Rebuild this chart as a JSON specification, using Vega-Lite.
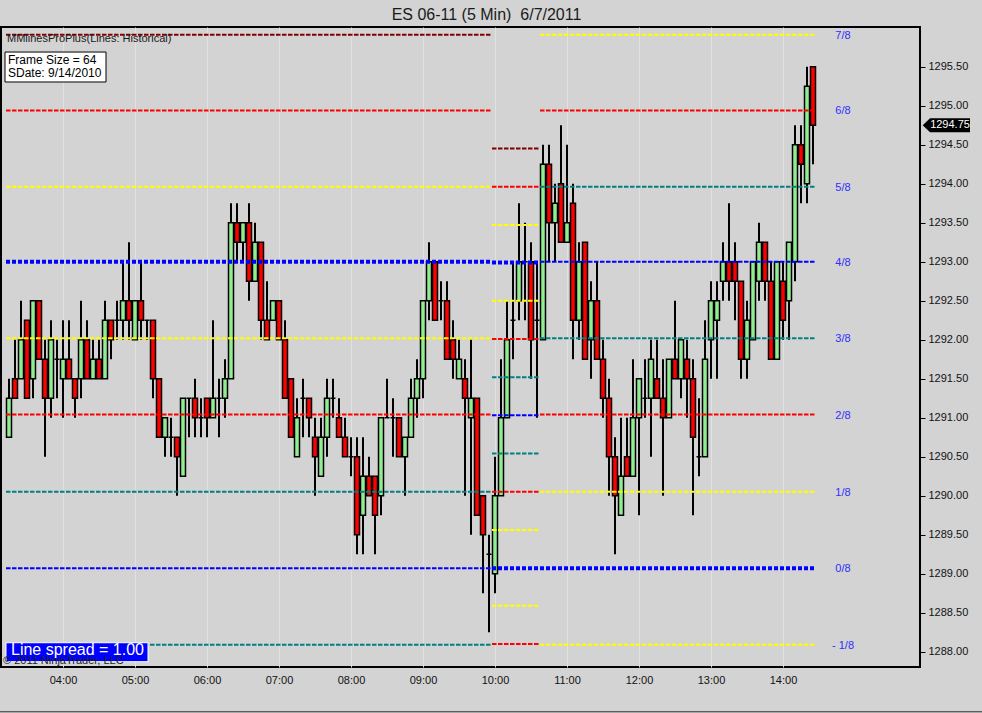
{
"$schema":"https://vega.github.io/schema/vega-lite/v6.json",
"width":919,"height":640,
"autosize":{"type":"none"},
"padding":{"left":1,"top":27,"right":62,"bottom":46},
"background":"#d3d3d3",
"title":{"text":"ES 06-11 (5 Min) \u00a06/7/2011","anchor":"middle","dx":26,"dy":17,"offset":8,"fontSize":16,"font":"Liberation Sans","fontWeight":"normal","color":"#1a1a1a","baseline":"alphabetic"},
"config":{"view":{"stroke":"#000","strokeWidth":2},"font":"Liberation Sans"},
"layer":[
{"data":{"values":[
{"t":"03:15","o":1290.75,"h":1291.5,"l":1290.75,"c":1291.25},
{"t":"03:20","o":1291.5,"h":1292.0,"l":1291.25,"c":1291.25},
{"t":"03:25","o":1291.5,"h":1292.5,"l":1291.5,"c":1292.0},
{"t":"03:30","o":1292.25,"h":1292.25,"l":1291.25,"c":1291.25},
{"t":"03:35","o":1291.5,"h":1292.5,"l":1291.25,"c":1292.5},
{"t":"03:40","o":1292.5,"h":1292.5,"l":1291.75,"c":1291.75},
{"t":"03:45","o":1291.75,"h":1292.0,"l":1290.5,"c":1291.25},
{"t":"03:50","o":1291.25,"h":1292.25,"l":1291.0,"c":1292.0},
{"t":"03:55","o":1291.75,"h":1292.0,"l":1291.25,"c":1291.75},
{"t":"04:00","o":1291.5,"h":1292.25,"l":1291.0,"c":1291.75},
{"t":"04:05","o":1291.75,"h":1292.25,"l":1291.5,"c":1291.5},
{"t":"04:10","o":1291.5,"h":1291.5,"l":1291.0,"c":1291.25},
{"t":"04:15","o":1291.5,"h":1292.5,"l":1291.25,"c":1292.0},
{"t":"04:20","o":1292.0,"h":1292.25,"l":1291.5,"c":1291.5},
{"t":"04:25","o":1291.5,"h":1292.0,"l":1291.5,"c":1291.75},
{"t":"04:30","o":1291.75,"h":1292.0,"l":1291.5,"c":1291.5},
{"t":"04:35","o":1291.5,"h":1292.5,"l":1291.5,"c":1292.25},
{"t":"04:40","o":1292.25,"h":1292.25,"l":1291.75,"c":1292.0},
{"t":"04:45","o":1292.25,"h":1292.5,"l":1292.0,"c":1292.25},
{"t":"04:50","o":1292.25,"h":1293.0,"l":1292.0,"c":1292.5},
{"t":"04:55","o":1292.5,"h":1293.25,"l":1292.0,"c":1292.25},
{"t":"05:00","o":1292.0,"h":1292.5,"l":1292.0,"c":1292.5},
{"t":"05:05","o":1292.5,"h":1293.0,"l":1292.0,"c":1292.25},
{"t":"05:10","o":1292.25,"h":1292.25,"l":1292.0,"c":1292.25},
{"t":"05:15","o":1292.25,"h":1292.25,"l":1291.25,"c":1291.5},
{"t":"05:20","o":1291.5,"h":1291.5,"l":1290.75,"c":1290.75},
{"t":"05:25","o":1290.75,"h":1291.0,"l":1290.5,"c":1291.0},
{"t":"05:30","o":1290.75,"h":1291.0,"l":1290.5,"c":1290.75},
{"t":"05:35","o":1290.75,"h":1290.75,"l":1290.0,"c":1290.5},
{"t":"05:40","o":1290.25,"h":1291.25,"l":1290.25,"c":1291.25},
{"t":"05:45","o":1291.25,"h":1291.25,"l":1290.75,"c":1291.25},
{"t":"05:50","o":1291.25,"h":1291.5,"l":1290.75,"c":1291.0},
{"t":"05:55","o":1291.0,"h":1291.25,"l":1290.75,"c":1291.0},
{"t":"06:00","o":1291.25,"h":1291.25,"l":1290.75,"c":1291.0},
{"t":"06:05","o":1291.0,"h":1292.25,"l":1291.0,"c":1291.25},
{"t":"06:10","o":1291.25,"h":1291.5,"l":1290.75,"c":1291.25},
{"t":"06:15","o":1291.25,"h":1291.75,"l":1291.0,"c":1291.5},
{"t":"06:20","o":1291.5,"h":1293.75,"l":1291.5,"c":1293.5},
{"t":"06:25","o":1293.5,"h":1293.75,"l":1293.0,"c":1293.25},
{"t":"06:30","o":1293.25,"h":1293.5,"l":1293.0,"c":1293.5},
{"t":"06:35","o":1293.5,"h":1293.75,"l":1292.5,"c":1292.75},
{"t":"06:40","o":1292.75,"h":1293.5,"l":1292.75,"c":1293.25},
{"t":"06:45","o":1293.25,"h":1293.25,"l":1292.0,"c":1292.25},
{"t":"06:50","o":1292.25,"h":1292.75,"l":1292.0,"c":1292.0},
{"t":"06:55","o":1292.25,"h":1292.5,"l":1292.25,"c":1292.5},
{"t":"07:00","o":1292.5,"h":1292.5,"l":1292.0,"c":1292.0},
{"t":"07:05","o":1292.0,"h":1292.25,"l":1291.25,"c":1291.25},
{"t":"07:10","o":1291.5,"h":1291.5,"l":1290.75,"c":1290.75},
{"t":"07:15","o":1290.5,"h":1291.25,"l":1290.5,"c":1291.0},
{"t":"07:20","o":1291.25,"h":1291.5,"l":1290.75,"c":1291.25},
{"t":"07:25","o":1291.25,"h":1291.25,"l":1290.75,"c":1291.0},
{"t":"07:30","o":1290.75,"h":1291.0,"l":1290.0,"c":1290.5},
{"t":"07:35","o":1290.25,"h":1291.0,"l":1290.25,"c":1290.75},
{"t":"07:40","o":1290.75,"h":1291.5,"l":1290.5,"c":1291.25},
{"t":"07:45","o":1291.25,"h":1291.5,"l":1291.0,"c":1291.25},
{"t":"07:50","o":1291.0,"h":1291.25,"l":1290.75,"c":1290.75},
{"t":"07:55","o":1290.75,"h":1291.0,"l":1290.5,"c":1290.5},
{"t":"08:00","o":1290.5,"h":1290.75,"l":1290.25,"c":1290.5},
{"t":"08:05","o":1290.5,"h":1290.75,"l":1289.25,"c":1289.5},
{"t":"08:10","o":1289.75,"h":1290.75,"l":1289.25,"c":1290.25},
{"t":"08:15","o":1290.25,"h":1290.5,"l":1290.0,"c":1290.0},
{"t":"08:20","o":1290.25,"h":1290.25,"l":1289.25,"c":1289.75},
{"t":"08:25","o":1290.0,"h":1291.0,"l":1289.75,"c":1291.0},
{"t":"08:30","o":1291.0,"h":1291.5,"l":1291.0,"c":1291.0},
{"t":"08:35","o":1291.0,"h":1291.25,"l":1290.5,"c":1291.0},
{"t":"08:40","o":1291.0,"h":1291.0,"l":1290.5,"c":1290.5},
{"t":"08:45","o":1290.5,"h":1290.75,"l":1290.0,"c":1290.75},
{"t":"08:50","o":1290.75,"h":1291.5,"l":1290.75,"c":1291.25},
{"t":"08:55","o":1291.25,"h":1291.75,"l":1291.0,"c":1291.5},
{"t":"09:00","o":1291.5,"h":1292.5,"l":1291.25,"c":1292.5},
{"t":"09:05","o":1292.5,"h":1293.25,"l":1292.25,"c":1293.0},
{"t":"09:10","o":1293.0,"h":1293.0,"l":1292.25,"c":1292.25},
{"t":"09:15","o":1292.5,"h":1292.75,"l":1292.25,"c":1292.5},
{"t":"09:20","o":1292.5,"h":1292.75,"l":1291.75,"c":1291.75},
{"t":"09:25","o":1292.0,"h":1292.25,"l":1291.5,"c":1291.75},
{"t":"09:30","o":1291.5,"h":1292.0,"l":1291.5,"c":1291.75},
{"t":"09:35","o":1291.5,"h":1291.75,"l":1290.0,"c":1291.25},
{"t":"09:40","o":1291.0,"h":1292.0,"l":1289.5,"c":1291.25},
{"t":"09:45","o":1291.25,"h":1291.25,"l":1289.75,"c":1289.75},
{"t":"09:50","o":1290.0,"h":1290.0,"l":1288.75,"c":1289.5},
{"t":"09:55","o":1289.25,"h":1289.5,"l":1288.25,"c":1289.25},
{"t":"10:00","o":1289.0,"h":1290.5,"l":1288.75,"c":1290.0},
{"t":"10:05","o":1290.0,"h":1291.75,"l":1290.0,"c":1291.0},
{"t":"10:10","o":1291.0,"h":1292.5,"l":1291.0,"c":1292.0},
{"t":"10:15","o":1292.25,"h":1293.0,"l":1291.75,"c":1292.25},
{"t":"10:20","o":1292.5,"h":1293.75,"l":1292.25,"c":1293.0},
{"t":"10:25","o":1293.0,"h":1293.5,"l":1292.25,"c":1293.0},
{"t":"10:30","o":1293.0,"h":1293.25,"l":1291.5,"c":1292.0},
{"t":"10:35","o":1292.25,"h":1293.0,"l":1291.0,"c":1292.25},
{"t":"10:40","o":1292.0,"h":1294.5,"l":1292.0,"c":1294.25},
{"t":"10:45","o":1294.25,"h":1294.5,"l":1293.0,"c":1293.5},
{"t":"10:50","o":1293.5,"h":1294.0,"l":1293.0,"c":1293.75},
{"t":"10:55","o":1294.0,"h":1294.75,"l":1293.25,"c":1293.25},
{"t":"11:00","o":1293.25,"h":1294.5,"l":1293.25,"c":1293.5},
{"t":"11:05","o":1293.75,"h":1294.0,"l":1291.75,"c":1292.25},
{"t":"11:10","o":1292.25,"h":1293.25,"l":1292.0,"c":1293.0},
{"t":"11:15","o":1293.25,"h":1293.25,"l":1291.75,"c":1291.75},
{"t":"11:20","o":1292.0,"h":1292.75,"l":1291.5,"c":1292.5},
{"t":"11:25","o":1292.5,"h":1293.0,"l":1291.75,"c":1291.75},
{"t":"11:30","o":1291.75,"h":1292.0,"l":1291.0,"c":1291.25},
{"t":"11:35","o":1291.25,"h":1291.5,"l":1290.0,"c":1290.5},
{"t":"11:40","o":1290.5,"h":1290.75,"l":1289.25,"c":1290.0},
{"t":"11:45","o":1289.75,"h":1291.0,"l":1289.75,"c":1290.25},
{"t":"11:50","o":1290.5,"h":1291.0,"l":1290.25,"c":1290.25},
{"t":"11:55","o":1290.25,"h":1291.75,"l":1290.25,"c":1291.0},
{"t":"12:00","o":1291.0,"h":1291.5,"l":1289.75,"c":1291.5},
{"t":"12:05","o":1291.25,"h":1291.75,"l":1291.0,"c":1291.25},
{"t":"12:10","o":1291.25,"h":1292.0,"l":1290.5,"c":1291.75},
{"t":"12:15","o":1291.5,"h":1292.0,"l":1291.25,"c":1291.25},
{"t":"12:20","o":1291.25,"h":1291.75,"l":1290.0,"c":1291.0},
{"t":"12:25","o":1291.0,"h":1291.75,"l":1291.0,"c":1291.75},
{"t":"12:30","o":1291.75,"h":1292.5,"l":1291.5,"c":1291.5},
{"t":"12:35","o":1291.5,"h":1292.0,"l":1291.25,"c":1292.0},
{"t":"12:40","o":1291.75,"h":1292.0,"l":1291.0,"c":1291.5},
{"t":"12:45","o":1291.5,"h":1291.75,"l":1289.75,"c":1290.75},
{"t":"12:50","o":1290.5,"h":1291.25,"l":1290.25,"c":1290.5},
{"t":"12:55","o":1290.5,"h":1292.25,"l":1290.5,"c":1291.75},
{"t":"13:00","o":1292.0,"h":1292.75,"l":1291.5,"c":1292.5},
{"t":"13:05","o":1292.25,"h":1292.75,"l":1291.5,"c":1292.5},
{"t":"13:10","o":1292.75,"h":1293.25,"l":1292.5,"c":1293.0},
{"t":"13:15","o":1293.0,"h":1293.75,"l":1292.5,"c":1292.75},
{"t":"13:20","o":1293.0,"h":1293.25,"l":1292.25,"c":1292.75},
{"t":"13:25","o":1292.75,"h":1292.75,"l":1291.5,"c":1291.75},
{"t":"13:30","o":1291.75,"h":1292.5,"l":1291.5,"c":1292.25},
{"t":"13:35","o":1292.0,"h":1293.0,"l":1292.0,"c":1293.0},
{"t":"13:40","o":1292.75,"h":1293.5,"l":1292.5,"c":1293.25},
{"t":"13:45","o":1293.25,"h":1293.25,"l":1292.5,"c":1292.75},
{"t":"13:50","o":1292.75,"h":1293.0,"l":1291.75,"c":1291.75},
{"t":"13:55","o":1291.75,"h":1293.0,"l":1291.75,"c":1293.0},
{"t":"14:00","o":1292.75,"h":1293.0,"l":1292.0,"c":1292.25},
{"t":"14:05","o":1292.5,"h":1293.25,"l":1292.0,"c":1293.25},
{"t":"14:10","o":1293.0,"h":1294.75,"l":1292.75,"c":1294.5},
{"t":"14:15","o":1294.5,"h":1294.75,"l":1293.75,"c":1294.25},
{"t":"14:20","o":1294.0,"h":1295.5,"l":1293.75,"c":1295.25},
{"t":"14:25","o":1295.5,"h":1295.5,"l":1294.25,"c":1294.75}
],"format":{"parse":{"t":"date:'%H:%M'"}}},
 "layer":[
 {"mark":{"type":"rule","color":"#000","strokeWidth":2},
  "encoding":{
   "x":{"field":"t","type":"temporal","scale":{"domain":[{"year":1900,"month":1,"date":1,"hours":3,"minutes":8,"seconds":20},{"year":1900,"month":1,"date":1,"hours":15,"minutes":54,"seconds":10}],"nice":false,"padding":0},
    "axis":{"title":null,"format":"%H:%M","values":[{"year":1900,"month":1,"date":1,"hours":4},{"year":1900,"month":1,"date":1,"hours":5},{"year":1900,"month":1,"date":1,"hours":6},{"year":1900,"month":1,"date":1,"hours":7},{"year":1900,"month":1,"date":1,"hours":8},{"year":1900,"month":1,"date":1,"hours":9},{"year":1900,"month":1,"date":1,"hours":10},{"year":1900,"month":1,"date":1,"hours":11},{"year":1900,"month":1,"date":1,"hours":12},{"year":1900,"month":1,"date":1,"hours":13},{"year":1900,"month":1,"date":1,"hours":14}],
     "grid":true,"gridColor":"#e1e1e1","gridWidth":1,"ticks":false,"domain":false,"labelFontSize":11,"labelColor":"#111111","labelPadding":7,"labelFont":"Liberation Sans","labelFlush":false,"labelOverlap":false}},
   "y":{"field":"l","type":"quantitative","scale":{"domain":[1287.804,1296.009],"nice":false,"zero":false,"padding":0},
    "axis":{"title":null,"orient":"right","values":[1288,1288.5,1289,1289.5,1290,1290.5,1291,1291.5,1292,1292.5,1293,1293.5,1294,1294.5,1295,1295.5],"format":".2f","grid":false,"domain":false,"tickSize":5,"tickColor":"#000","tickWidth":1,"labelFontSize":11,"labelColor":"#111111","labelPadding":3,"labelFont":"Liberation Sans","labelFlush":false,"labelOverlap":false}},
   "y2":{"field":"h"}}},
 {"mark":{"type":"bar","size":5,"stroke":"#000","strokeWidth":1.5},
  "encoding":{
   "x":{"field":"t","type":"temporal","scale":{"domain":[{"year":1900,"month":1,"date":1,"hours":3,"minutes":8,"seconds":20},{"year":1900,"month":1,"date":1,"hours":15,"minutes":54,"seconds":10}],"nice":false,"padding":0},"axis":{"title":null}},
   "y":{"field":"o","type":"quantitative","scale":{"domain":[1287.804,1296.009],"nice":false,"zero":false,"padding":0},"axis":{"title":null}},
   "y2":{"field":"c"},
   "fill":{"condition":{"test":"datum.c > datum.o","value":"#90ee90"},"value":"#ff0000"}}}
 ]},
{"data":{"values":[
{"frame":"left","a":"03:12:30","b":"09:57:30","level":"+3/8","p":1295.91},
{"frame":"left","a":"03:12:30","b":"09:57:30","level":"+2/8","p":1294.94},
{"frame":"left","a":"03:12:30","b":"09:57:30","level":"+1/8","p":1293.96},
{"frame":"left","a":"03:12:30","b":"09:57:30","level":"8/8","p":1293.0},
{"frame":"left","a":"03:12:30","b":"09:57:30","level":"7/8","p":1292.02},
{"frame":"left","a":"03:12:30","b":"09:57:30","level":"6/8","p":1291.04},
{"frame":"left","a":"03:12:30","b":"09:57:30","level":"5/8","p":1290.05},
{"frame":"left","a":"03:12:30","b":"09:57:30","level":"4/8","p":1289.07},
{"frame":"left","a":"03:12:30","b":"09:57:30","level":"3/8","p":1288.09},
{"frame":"middle","a":"09:57:30","b":"10:37:30","level":"+3/8","p":1294.45},
{"frame":"middle","a":"09:57:30","b":"10:37:30","level":"+2/8","p":1293.96},
{"frame":"middle","a":"09:57:30","b":"10:37:30","level":"+1/8","p":1293.47},
{"frame":"middle","a":"09:57:30","b":"10:37:30","level":"8/8","p":1292.99},
{"frame":"middle","a":"09:57:30","b":"10:37:30","level":"7/8","p":1292.5},
{"frame":"middle","a":"09:57:30","b":"10:37:30","level":"6/8","p":1292.01},
{"frame":"middle","a":"09:57:30","b":"10:37:30","level":"5/8","p":1291.52},
{"frame":"middle","a":"09:57:30","b":"10:37:30","level":"4/8","p":1291.03},
{"frame":"middle","a":"09:57:30","b":"10:37:30","level":"3/8","p":1290.54},
{"frame":"middle","a":"09:57:30","b":"10:37:30","level":"2/8","p":1290.05},
{"frame":"middle","a":"09:57:30","b":"10:37:30","level":"1/8","p":1289.56},
{"frame":"middle","a":"09:57:30","b":"10:37:30","level":"0/8","p":1289.07},
{"frame":"middle","a":"09:57:30","b":"10:37:30","level":"- 1/8","p":1288.59},
{"frame":"middle","a":"09:57:30","b":"10:37:30","level":"- 2/8","p":1288.1},
{"frame":"right","a":"10:37:30","b":"14:27:30","level":"7/8","p":1295.91},
{"frame":"right","a":"10:37:30","b":"14:27:30","level":"6/8","p":1294.94},
{"frame":"right","a":"10:37:30","b":"14:27:30","level":"5/8","p":1293.96},
{"frame":"right","a":"10:37:30","b":"14:27:30","level":"4/8","p":1293.0},
{"frame":"right","a":"10:37:30","b":"14:27:30","level":"3/8","p":1292.02},
{"frame":"right","a":"10:37:30","b":"14:27:30","level":"2/8","p":1291.04},
{"frame":"right","a":"10:37:30","b":"14:27:30","level":"1/8","p":1290.05},
{"frame":"right","a":"10:37:30","b":"14:27:30","level":"0/8","p":1289.07},
{"frame":"right","a":"10:37:30","b":"14:27:30","level":"- 1/8","p":1288.09}
],"format":{"parse":{"a":"date:'%H:%M:%S'","b":"date:'%H:%M:%S'"}}},
 "layer":[
 {"transform":[{"filter":{"not":{"field":"level","oneOf":["8/8","0/8"]}}}],
  "mark":{"type":"rule","strokeWidth":2,"strokeDash":[4.5,1.5]},
  "encoding":{
   "x":{"field":"a","type":"temporal","scale":{"domain":[{"year":1900,"month":1,"date":1,"hours":3,"minutes":8,"seconds":20},{"year":1900,"month":1,"date":1,"hours":15,"minutes":54,"seconds":10}],"nice":false,"padding":0},"axis":{"title":null}},
   "x2":{"field":"b"},
   "y":{"field":"p","type":"quantitative","scale":{"domain":[1287.804,1296.009],"nice":false,"zero":false,"padding":0},"axis":{"title":null}},
   "color":{"field":"level","type":"nominal","legend":null,"scale":{"domain":["+3/8","+2/8","+1/8","8/8","7/8","6/8","5/8","4/8","3/8","2/8","1/8","0/8","- 1/8","- 2/8"],"range":["#800000","#ff0000","#ffff00","#0000ff","#ffff00","#ff0000","#008080","#0000ff","#008080","#ff0000","#ffff00","#0000ff","#ffff00","#ff0000"]}}}},
 {"transform":[{"filter":{"field":"level","oneOf":["8/8","0/8"]}}],
  "mark":{"type":"rule","strokeWidth":4,"strokeDash":[4,2]},
  "encoding":{
   "x":{"field":"a","type":"temporal","scale":{"domain":[{"year":1900,"month":1,"date":1,"hours":3,"minutes":8,"seconds":20},{"year":1900,"month":1,"date":1,"hours":15,"minutes":54,"seconds":10}],"nice":false,"padding":0},"axis":{"title":null}},
   "x2":{"field":"b"},
   "y":{"field":"p","type":"quantitative","scale":{"domain":[1287.804,1296.009],"nice":false,"zero":false,"padding":0},"axis":{"title":null}},
   "color":{"field":"level","type":"nominal","legend":null,"scale":{"domain":["+3/8","+2/8","+1/8","8/8","7/8","6/8","5/8","4/8","3/8","2/8","1/8","0/8","- 1/8","- 2/8"],"range":["#800000","#ff0000","#ffff00","#0000ff","#ffff00","#ff0000","#008080","#0000ff","#008080","#ff0000","#ffff00","#0000ff","#ffff00","#ff0000"]}}}},
 {"transform":[{"filter":{"field":"frame","equal":"right"}}],
  "mark":{"type":"text","color":"#2f2fff","fontSize":11,"font":"Liberation Sans","align":"center","baseline":"middle","dy":1},
  "encoding":{
   "x":{"datum":{"year":1900,"month":1,"date":1,"hours":14,"minutes":50},"type":"temporal","scale":{"domain":[{"year":1900,"month":1,"date":1,"hours":3,"minutes":8,"seconds":20},{"year":1900,"month":1,"date":1,"hours":15,"minutes":54,"seconds":10}],"nice":false,"padding":0},"axis":{"title":null}},
   "y":{"field":"p","type":"quantitative","scale":{"domain":[1287.804,1296.009],"nice":false,"zero":false,"padding":0},"axis":{"title":null}},
   "text":{"field":"level"}}}
 ]},
{"data":{"values":[{}]},
 "layer":[
 {"mark":{"type":"text","text":"MMlinesProPlus(Lines: Historical)","color":"#1a1a1a","fontSize":11,"font":"Liberation Sans","align":"left","baseline":"middle"},
  "encoding":{
   "x":{"datum":{"year":1900,"month":1,"date":1,"hours":3,"minutes":13,"seconds":20},"type":"temporal","scale":{"domain":[{"year":1900,"month":1,"date":1,"hours":3,"minutes":8,"seconds":20},{"year":1900,"month":1,"date":1,"hours":15,"minutes":54,"seconds":10}],"nice":false,"padding":0},"axis":{"title":null}},
   "y":{"datum":1295.849,"type":"quantitative","scale":{"domain":[1287.804,1296.009],"nice":false,"zero":false,"padding":0},"axis":{"title":null}}}},
 {"mark":{"type":"rect","fill":"#ffffff","stroke":"#000","strokeWidth":1},
  "encoding":{
   "x":{"datum":{"year":1900,"month":1,"date":1,"hours":3,"minutes":11,"seconds":40},"type":"temporal","scale":{"domain":[{"year":1900,"month":1,"date":1,"hours":3,"minutes":8,"seconds":20},{"year":1900,"month":1,"date":1,"hours":15,"minutes":54,"seconds":10}],"nice":false,"padding":0},"axis":{"title":null}},
   "x2":{"datum":{"year":1900,"month":1,"date":1,"hours":4,"minutes":35,"seconds":50}},
   "y":{"datum":1295.688,"type":"quantitative","scale":{"domain":[1287.804,1296.009],"nice":false,"zero":false,"padding":0},"axis":{"title":null}},
   "y2":{"datum":1295.304}}},
 {"mark":{"type":"text","text":"Frame Size = 64","color":"#000","fontSize":12,"font":"Liberation Sans","align":"left","baseline":"middle"},
  "encoding":{
   "x":{"datum":{"year":1900,"month":1,"date":1,"hours":3,"minutes":14,"seconds":10},"type":"temporal","scale":{"domain":[{"year":1900,"month":1,"date":1,"hours":3,"minutes":8,"seconds":20},{"year":1900,"month":1,"date":1,"hours":15,"minutes":54,"seconds":10}],"nice":false,"padding":0},"axis":{"title":null}},
   "y":{"datum":1295.586,"type":"quantitative","scale":{"domain":[1287.804,1296.009],"nice":false,"zero":false,"padding":0},"axis":{"title":null}}}},
 {"mark":{"type":"text","text":"SDate: 9/14/2010","color":"#000","fontSize":12,"font":"Liberation Sans","align":"left","baseline":"middle"},
  "encoding":{
   "x":{"datum":{"year":1900,"month":1,"date":1,"hours":3,"minutes":14,"seconds":10},"type":"temporal","scale":{"domain":[{"year":1900,"month":1,"date":1,"hours":3,"minutes":8,"seconds":20},{"year":1900,"month":1,"date":1,"hours":15,"minutes":54,"seconds":10}],"nice":false,"padding":0},"axis":{"title":null}},
   "y":{"datum":1295.413,"type":"quantitative","scale":{"domain":[1287.804,1296.009],"nice":false,"zero":false,"padding":0},"axis":{"title":null}}}},
 {"mark":{"type":"rect","fill":"#0000ff","stroke":"#ffffff","strokeWidth":1},
  "encoding":{
   "x":{"datum":{"year":1900,"month":1,"date":1,"hours":3,"minutes":12,"seconds":30},"type":"temporal","scale":{"domain":[{"year":1900,"month":1,"date":1,"hours":3,"minutes":8,"seconds":20},{"year":1900,"month":1,"date":1,"hours":15,"minutes":54,"seconds":10}],"nice":false,"padding":0},"axis":{"title":null}},
   "x2":{"datum":{"year":1900,"month":1,"date":1,"hours":5,"minutes":10,"seconds":50}},
   "y":{"datum":1288.115,"type":"quantitative","scale":{"domain":[1287.804,1296.009],"nice":false,"zero":false,"padding":0},"axis":{"title":null}},
   "y2":{"datum":1287.872}}},
 {"mark":{"type":"text","text":"Line spread = 1.00","color":"#ffffff","fontSize":16,"font":"Liberation Sans","align":"left","baseline":"middle"},
  "encoding":{
   "x":{"datum":{"year":1900,"month":1,"date":1,"hours":3,"minutes":16,"seconds":40},"type":"temporal","scale":{"domain":[{"year":1900,"month":1,"date":1,"hours":3,"minutes":8,"seconds":20},{"year":1900,"month":1,"date":1,"hours":15,"minutes":54,"seconds":10}],"nice":false,"padding":0},"axis":{"title":null}},
   "y":{"datum":1288.02,"type":"quantitative","scale":{"domain":[1287.804,1296.009],"nice":false,"zero":false,"padding":0},"axis":{"title":null}}}},
 {"mark":{"type":"text","text":"© 2011 NinjaTrader, LLC","color":"#222222","fontSize":11,"font":"Liberation Sans","align":"left","baseline":"middle"},
  "encoding":{
   "x":{"datum":{"year":1900,"month":1,"date":1,"hours":3,"minutes":10},"type":"temporal","scale":{"domain":[{"year":1900,"month":1,"date":1,"hours":3,"minutes":8,"seconds":20},{"year":1900,"month":1,"date":1,"hours":15,"minutes":54,"seconds":10}],"nice":false,"padding":0},"axis":{"title":null}},
   "y":{"datum":1287.881,"type":"quantitative","scale":{"domain":[1287.804,1296.009],"nice":false,"zero":false,"padding":0},"axis":{"title":null}}}},
 {"mark":{"type":"point","shape":"M -1 0 L -0.69 -0.296 L 1 -0.296 L 1 0.296 L -0.69 0.296 Z","size":2237,"filled":true,"color":"#000","opacity":1},
  "encoding":{
   "x":{"datum":{"year":1900,"month":1,"date":1,"hours":16,"minutes":16,"seconds":8},"type":"temporal","scale":{"domain":[{"year":1900,"month":1,"date":1,"hours":3,"minutes":8,"seconds":20},{"year":1900,"month":1,"date":1,"hours":15,"minutes":54,"seconds":10}],"nice":false,"padding":0},"axis":{"title":null}},
   "y":{"datum":1294.75,"type":"quantitative","scale":{"domain":[1287.804,1296.009],"nice":false,"zero":false,"padding":0},"axis":{"title":null}}}},
 {"mark":{"type":"text","text":"1294.75","color":"#ffffff","fontSize":11,"font":"Liberation Sans","align":"center","baseline":"middle"},
  "encoding":{
   "x":{"datum":{"year":1900,"month":1,"date":1,"hours":16,"minutes":19,"seconds":10},"type":"temporal","scale":{"domain":[{"year":1900,"month":1,"date":1,"hours":3,"minutes":8,"seconds":20},{"year":1900,"month":1,"date":1,"hours":15,"minutes":54,"seconds":10}],"nice":false,"padding":0},"axis":{"title":null}},
   "y":{"datum":1294.75,"type":"quantitative","scale":{"domain":[1287.804,1296.009],"nice":false,"zero":false,"padding":0},"axis":{"title":null}}}},
 {"mark":{"type":"rule","color":"#333333","strokeWidth":1},
  "encoding":{
   "x":{"datum":{"year":1900,"month":1,"date":1,"hours":3,"minutes":7,"seconds":30},"type":"temporal","scale":{"domain":[{"year":1900,"month":1,"date":1,"hours":3,"minutes":8,"seconds":20},{"year":1900,"month":1,"date":1,"hours":15,"minutes":54,"seconds":10}],"nice":false,"padding":0},"axis":{"title":null}},
   "x2":{"datum":{"year":1900,"month":1,"date":1,"hours":16,"minutes":45,"seconds":50}},
   "y":{"datum":1287.23,"type":"quantitative","scale":{"domain":[1287.804,1296.009],"nice":false,"zero":false,"padding":0},"axis":{"title":null}}}}
 ]}
]
}
